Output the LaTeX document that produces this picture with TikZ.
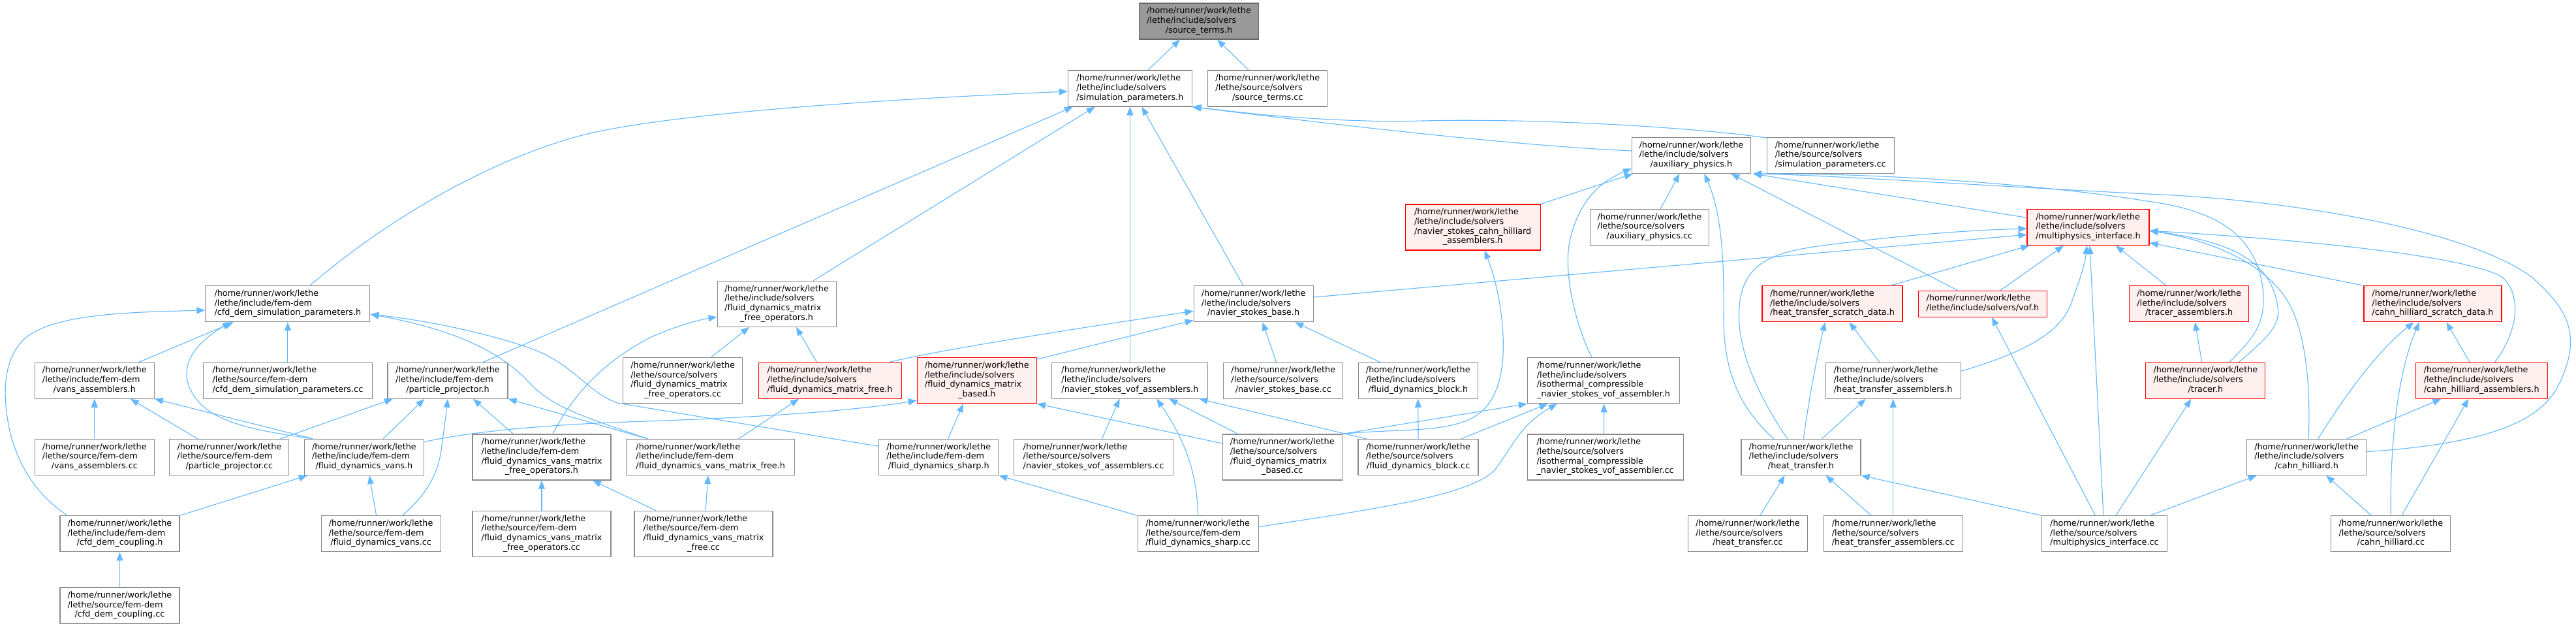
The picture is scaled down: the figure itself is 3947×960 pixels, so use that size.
\documentclass[tikz,border=0pt]{standalone}
\usepackage{fontspec}
\setmainfont{DejaVu Sans}
\usetikzlibrary{arrows.meta}
\definecolor{edgeblue}{HTML}{63B8FF}
\definecolor{nborder}{HTML}{8A8A8A}
\definecolor{rootborder}{HTML}{666666}
\definecolor{rootfill}{HTML}{999999}
\definecolor{redfill}{HTML}{FFF0F0}
\newcommand\hm{/home/runner/work/lethe}
\newcommand\lbl[2]{\begin{tabular}{@{}l@{}}#1\\\multicolumn{1}{@{}c@{}}{#2}\end{tabular}}
\newcommand\nd[7]{\node[#6,minimum width=#4pt,minimum height=#5pt] (#1) at (#2,-#3) {#7};}
\tikzset{
  nbox/.style={draw=nborder,fill=white,line width=1.1pt,inner sep=0pt,font=\fontsize{12.8}{14.7}\selectfont},
  rbox/.style={nbox,draw=red,fill=redfill},
  rootbox/.style={nbox,draw=rootborder,fill=rootfill},
  dep/.style={draw=edgeblue,line width=1.1pt,-{Triangle[length=13pt,width=10pt]}}
}
\begin{document}
\begin{tikzpicture}[x=1pt,y=1pt]
\fill[white] (0,0) rectangle (3947,-960);
\useasboundingbox (0,0) rectangle (3947,-960);
% rank 0-3
\nd{st_h}{1837}{32.5}{183}{55}{rootbox}{\lbl{\hm\\/lethe/include/solvers}{/source\_terms.h}}
\nd{sp_h}{1731.4}{135.5}{190}{55}{nbox}{\lbl{\hm\\/lethe/include/solvers}{/simulation\_parameters.h}}
\nd{st_cc}{1942.3}{135.5}{183}{55}{nbox}{\lbl{\hm\\/lethe/source/solvers}{/source\_terms.cc}}
\nd{aux_h}{2591.4}{238}{182}{55}{nbox}{\lbl{\hm\\/lethe/include/solvers}{/auxiliary\_physics.h}}
\nd{sp_cc}{2804.8}{238}{195}{55}{nbox}{\lbl{\hm\\/lethe/source/solvers}{/simulation\_parameters.cc}}
\nd{nsch_h}{2256.7}{348}{207}{70}{rbox}{\lbl{\hm\\/lethe/include/solvers\\/navier\_stokes\_cahn\_hilliard}{\_assemblers.h}}
\nd{aux_cc}{2527.4}{348}{182}{55}{nbox}{\lbl{\hm\\/lethe/source/solvers}{/auxiliary\_physics.cc}}
\nd{mi_h}{3199.5}{348}{187}{55}{rbox}{\lbl{\hm\\/lethe/include/solvers}{/multiphysics\_interface.h}}
% rank 4
\nd{cdsp_h}{440.9}{465.3}{252}{55}{nbox}{\lbl{\hm\\/lethe/include/fem-dem}{/cfd\_dem\_simulation\_parameters.h}}
\nd{fdmfo_h}{1190.1}{465.3}{182}{70}{nbox}{\lbl{\hm\\/lethe/include/solvers\\/fluid\_dynamics\_matrix}{\_free\_operators.h}}
\nd{nsb_h}{1920.6}{465.3}{183}{55}{nbox}{\lbl{\hm\\/lethe/include/solvers}{/navier\_stokes\_base.h}}
\nd{htsd_h}{2807.5}{465.3}{215}{55}{rbox}{\lbl{\hm\\/lethe/include/solvers}{/heat\_transfer\_scratch\_data.h}}
\nd{vof_h}{3037.9}{465.3}{197}{40}{rbox}{\lbl{\hm}{/lethe/include/solvers/vof.h}}
\nd{tra_h}{3354.2}{465.3}{183}{55}{rbox}{\lbl{\hm\\/lethe/include/solvers}{/tracer\_assemblers.h}}
\nd{chsd_h}{3727.4}{465.3}{211}{55}{rbox}{\lbl{\hm\\/lethe/include/solvers}{/cahn\_hilliard\_scratch\_data.h}}
% rank 5
\nd{va_h}{144.8}{582.7}{183}{55}{nbox}{\lbl{\hm\\/lethe/include/fem-dem}{/vans\_assemblers.h}}
\nd{cdsp_cc}{440.9}{582.7}{259}{55}{nbox}{\lbl{\hm\\/lethe/source/fem-dem}{/cfd\_dem\_simulation\_parameters.cc}}
\nd{pp_h}{686}{582.7}{184}{55}{nbox}{\lbl{\hm\\/lethe/include/fem-dem}{/particle\_projector.h}}
\nd{fdmfo_cc}{1046.2}{582.7}{183}{70}{nbox}{\lbl{\hm\\/lethe/source/solvers\\/fluid\_dynamics\_matrix}{\_free\_operators.cc}}
\nd{fdmf_h}{1271.6}{582.7}{219}{55}{rbox}{\lbl{\hm\\/lethe/include/solvers}{/fluid\_dynamics\_matrix\_free.h}}
\nd{fdmb_h}{1496.8}{582.7}{183}{70}{rbox}{\lbl{\hm\\/lethe/include/solvers\\/fluid\_dynamics\_matrix}{\_based.h}}
\nd{nsva_h}{1731.4}{582.7}{239}{55}{nbox}{\lbl{\hm\\/lethe/include/solvers}{/navier\_stokes\_vof\_assemblers.h}}
\nd{nsb_cc}{1966.3}{582.7}{183}{55}{nbox}{\lbl{\hm\\/lethe/source/solvers}{/navier\_stokes\_base.cc}}
\nd{fdb_h}{2172.8}{582.7}{183}{55}{nbox}{\lbl{\hm\\/lethe/include/solvers}{/fluid\_dynamics\_block.h}}
\nd{icns_h}{2456.9}{582.7}{233}{70}{nbox}{\lbl{\hm\\/lethe/include/solvers\\/isothermal\_compressible}{\_navier\_stokes\_vof\_assembler.h}}
\nd{hta_h}{2900.7}{582.7}{207}{55}{nbox}{\lbl{\hm\\/lethe/include/solvers}{/heat\_transfer\_assemblers.h}}
\nd{tr_h}{3379.4}{582.7}{183}{55}{rbox}{\lbl{\hm\\/lethe/include/solvers}{/tracer.h}}
\nd{cha_h}{3802.2}{582.7}{202}{55}{rbox}{\lbl{\hm\\/lethe/include/solvers}{/cahn\_hilliard\_assemblers.h}}
% rank 6
\nd{va_cc}{144.8}{700}{183}{55}{nbox}{\lbl{\hm\\/lethe/source/fem-dem}{/vans\_assemblers.cc}}
\nd{pp_cc}{351.4}{700}{183}{55}{nbox}{\lbl{\hm\\/lethe/source/fem-dem}{/particle\_projector.cc}}
\nd{fdv_h}{557.9}{700}{183}{55}{nbox}{\lbl{\hm\\/lethe/include/fem-dem}{/fluid\_dynamics\_vans.h}}
\nd{fdvmfo_h}{830}{700}{212}{70}{nbox}{\lbl{\hm\\/lethe/include/fem-dem\\/fluid\_dynamics\_vans\_matrix}{\_free\_operators.h}}
\nd{fdvmf_h}{1088.7}{700}{258}{55}{nbox}{\lbl{\hm\\/lethe/include/fem-dem}{/fluid\_dynamics\_vans\_matrix\_free.h}}
\nd{fds_h}{1438.3}{700}{183}{55}{nbox}{\lbl{\hm\\/lethe/include/fem-dem}{/fluid\_dynamics\_sharp.h}}
\nd{nsva_cc}{1675.6}{700}{244}{55}{nbox}{\lbl{\hm\\/lethe/source/solvers}{/navier\_stokes\_vof\_assemblers.cc}}
\nd{fdmb_cc}{1964.8}{700}{183}{70}{nbox}{\lbl{\hm\\/lethe/source/solvers\\/fluid\_dynamics\_matrix}{\_based.cc}}
\nd{fdb_cc}{2173}{700}{184}{55}{nbox}{\lbl{\hm\\/lethe/source/solvers}{/fluid\_dynamics\_block.cc}}
\nd{icns_cc}{2459.6}{700}{239}{70}{nbox}{\lbl{\hm\\/lethe/source/solvers\\/isothermal\_compressible}{\_navier\_stokes\_vof\_assembler.cc}}
\nd{ht_h}{2759.5}{700}{183}{55}{nbox}{\lbl{\hm\\/lethe/include/solvers}{/heat\_transfer.h}}
\nd{ch_h}{3534.2}{700}{183}{55}{nbox}{\lbl{\hm\\/lethe/include/solvers}{/cahn\_hilliard.h}}
% rank 7
\nd{cdc_h}{183.5}{817.3}{183}{55}{nbox}{\lbl{\hm\\/lethe/include/fem-dem}{/cfd\_dem\_coupling.h}}
\nd{fdv_cc}{583.6}{817.3}{183}{55}{nbox}{\lbl{\hm\\/lethe/source/fem-dem}{/fluid\_dynamics\_vans.cc}}
\nd{fdvmfo_cc}{830}{817.3}{212}{70}{nbox}{\lbl{\hm\\/lethe/source/fem-dem\\/fluid\_dynamics\_vans\_matrix}{\_free\_operators.cc}}
\nd{fdvmf_cc}{1078}{817.3}{212}{70}{nbox}{\lbl{\hm\\/lethe/source/fem-dem\\/fluid\_dynamics\_vans\_matrix}{\_free.cc}}
\nd{fds_cc}{1835.6}{817.3}{185}{55}{nbox}{\lbl{\hm\\/lethe/source/fem-dem}{/fluid\_dynamics\_sharp.cc}}
\nd{ht_cc}{2677.9}{817.3}{183}{55}{nbox}{\lbl{\hm\\/lethe/source/solvers}{/heat\_transfer.cc}}
\nd{hta_cc}{2900.7}{817.3}{213}{55}{nbox}{\lbl{\hm\\/lethe/source/solvers}{/heat\_transfer\_assemblers.cc}}
\nd{mi_cc}{3224.4}{817.3}{192}{55}{nbox}{\lbl{\hm\\/lethe/source/solvers}{/multiphysics\_interface.cc}}
\nd{ch_cc}{3663.3}{817.3}{183}{55}{nbox}{\lbl{\hm\\/lethe/source/solvers}{/cahn\_hilliard.cc}}
% rank 8
\nd{cdc_cc}{183.5}{927.3}{183}{55}{nbox}{\lbl{\hm\\/lethe/source/fem-dem}{/cfd\_dem\_coupling.cc}}
% ---------------- edges
\draw[dep] ([xshift=27.5pt]sp_h.north) -- ([xshift=-29pt]st_h.south);
\draw[dep] ([xshift=-29pt]st_cc.north) -- ([xshift=28pt]st_h.south);
\draw[dep] ([xshift=33.8pt]cdsp_h.north) .. controls (600,-330) and (760,-240) .. (900,-205) .. controls (1050,-170) and (1400,-150) .. ([yshift=-4.5pt]sp_h.west);
\draw[dep] ([xshift=54pt]pp_h.north) -- ([xshift=-87.4pt]sp_h.south);
\draw[dep] ([xshift=56pt]fdmfo_h.north) -- ([xshift=-53.7pt]sp_h.south);
\draw[dep] (nsva_h.north) -- (sp_h.south);
\draw[dep] ([xshift=-15.6pt]nsb_h.north) -- ([xshift=18pt]sp_h.south);
\draw[dep] ([yshift=7pt]aux_h.west) .. controls (2300,-222) and (2000,-185) .. ([xshift=-1pt]sp_h.south east);
\draw[dep] ([yshift=-1pt]sp_cc.north west) .. controls (2550,-190) and (2300,-180) .. (2148,-186) .. controls (2000,-185) and (1900,-172) .. ([xshift=1pt]sp_h.south east);
\draw[dep] (nsch_h.north east) -- ([xshift=2pt]aux_h.south west);
\draw[dep] ([xshift=-18pt]icns_h.north) .. controls (2415,-500) and (2395,-420) .. (2405,-370) .. controls (2420,-300) and (2460,-275) .. ([yshift=-20pt]aux_h.west);
\draw[dep] ([xshift=16.6pt]aux_cc.north) -- ([xshift=-18pt]aux_h.south);
\draw[dep] ([xshift=-41.6pt]ht_h.north) .. controls (2660,-620) and (2640,-560) .. (2641,-480) .. controls (2642,-380) and (2635,-320) .. ([xshift=20pt]aux_h.south);
\draw[dep] ([xshift=-38pt]vof_h.north) -- ([xshift=61pt]aux_h.south);
\draw[dep] ([yshift=14.7pt]mi_h.west) -- ([xshift=3pt]aux_h.south east);
\draw[dep] ([xshift=36.3pt]tr_h.north) .. controls (3450,-520) and (3470,-500) .. (3468,-450) .. controls (3460,-350) and (3380,-320) .. (3290,-308) .. controls (3150,-285) and (2900,-265) .. ([xshift=3pt]aux_h.south east);
\draw[dep] ([yshift=8.3pt]ch_h.east) .. controls (3800,-680) and (3890,-650) .. (3920,-590) .. controls (3960,-510) and (3930,-470) .. (3880,-425) .. controls (3780,-350) and (3500,-305) .. (3290,-297) .. controls (3050,-285) and (2800,-268) .. ([xshift=3pt]aux_h.south east);
\draw[dep] ([yshift=10.3pt]nsb_h.east) -- ([yshift=-11.3pt]mi_h.west);
\draw[dep] ([xshift=-20.6pt]ht_h.north) .. controls (2690,-600) and (2660,-530) .. (2665,-470) .. controls (2670,-400) and (2720,-385) .. (2800,-375) .. controls (2900,-362) and (3000,-353) .. ([yshift=-2pt]mi_h.west);
\draw[dep] ([xshift=89pt]htsd_h.north) -- ([xshift=4pt]mi_h.south west);
\draw[dep] ([xshift=27pt]vof_h.north) -- ([xshift=-37.6pt]mi_h.south);
\draw[dep] ([yshift=14.4pt]hta_h.east) .. controls (3100,-540) and (3160,-510) .. (3175,-460) .. controls (3190,-420) and (3195,-400) .. ([xshift=-1.8pt]mi_h.south);
\draw[dep] ([xshift=-1.5pt]mi_cc.north) -- ([xshift=2.4pt]mi_h.south);
\draw[dep] ([xshift=-35pt]tra_h.north) -- ([xshift=42.3pt]mi_h.south);
\draw[dep] ([xshift=51pt]tr_h.north) .. controls (3470,-520) and (3495,-500) .. (3490,-470) .. controls (3480,-400) and (3420,-370) .. ([yshift=-5.3pt]mi_h.east);
\draw[dep] ([xshift=3pt]ch_h.north) .. controls (3540,-600) and (3535,-520) .. (3510,-470) .. controls (3480,-410) and (3400,-370) .. ([yshift=-5.3pt]mi_h.east);
\draw[dep] ([xshift=20pt]cha_h.north) .. controls (3850,-520) and (3870,-460) .. (3835,-425) .. controls (3780,-390) and (3500,-365) .. ([yshift=-5.3pt]mi_h.east);
\draw[dep] (chsd_h.north west) -- ([yshift=-23.7pt]mi_h.east);
\draw[dep] (cdsp_cc.north) -- (cdsp_h.south);
\draw[dep] ([xshift=67.7pt]va_h.north) -- ([xshift=-83pt]cdsp_h.south);
\draw[dep] ([xshift=-78pt]fdv_h.north) .. controls (400,-660) and (330,-650) .. (300,-610) .. controls (270,-570) and (290,-530) .. ([xshift=-87pt]cdsp_h.south);
\draw[dep] ([xshift=-80.4pt]cdc_h.north) .. controls (60,-760) and (30,-720) .. (15,-660) .. controls (0,-590) and (10,-540) .. (42,-515) .. controls (90,-480) and (200,-478) .. ([yshift=-9.7pt]cdsp_h.west);
\draw[dep] ([xshift=-96pt]fdvmf_h.north) .. controls (900,-640) and (850,-625) .. (815,-590) .. controls (770,-540) and (700,-505) .. ([yshift=-16pt]cdsp_h.east);
\draw[dep] ([yshift=16.7pt]fds_h.west) -- (946,-617) .. controls (900,-600) and (880,-560) .. (820,-536) .. controls (750,-510) and (650,-490) .. ([yshift=-16pt]cdsp_h.east);
\draw[dep] (va_cc.north) -- (va_h.south);
\draw[dep] ([xshift=-48.4pt]pp_cc.north) -- ([xshift=55pt]va_h.south);
\draw[dep] ([xshift=-78pt]fdv_h.north) -- (va_h.south east);
\draw[dep] ([xshift=78pt]pp_cc.north) -- ([xshift=-84pt]pp_h.south);
\draw[dep] ([xshift=29pt]fdv_h.north) -- ([xshift=-35.7pt]pp_h.south);
\draw[dep] ([xshift=33pt]fdv_cc.north) .. controls (650,-760) and (670,-730) .. (676,-690) .. controls (680,-660) and (684,-630) .. (pp_h.south);
\draw[dep] ([xshift=-43.7pt]fdvmfo_h.north) -- ([xshift=39pt]pp_h.south);
\draw[dep] ([xshift=-96pt]fdvmf_h.north) -- (pp_h.south east);
\draw[dep] ([xshift=17pt]fdvmfo_h.north) .. controls (880,-600) and (930,-550) .. (1000,-515) .. controls (1040,-498) and (1070,-490) .. ([yshift=-20pt]fdmfo_h.west);
\draw[dep] ([xshift=43pt]fdmfo_cc.north) -- ([xshift=-42pt]fdmfo_h.south);
\draw[dep] ([xshift=-20pt]fdmf_h.north) -- ([xshift=29.7pt]fdmfo_h.south);
\draw[dep] ([xshift=90.5pt]fdmf_h.north) .. controls (1420,-540) and (1600,-510) .. ([yshift=-11pt]nsb_h.west);
\draw[dep] ([yshift=-3pt]fdmb_h.north east) -- ([yshift=3pt]nsb_h.south west);
\draw[dep] ([xshift=-10.8pt]nsb_cc.north) -- ([xshift=14pt]nsb_h.south);
\draw[dep] ([xshift=-58pt]fdb_h.north) -- ([xshift=63.6pt]nsb_h.south);
\draw[dep] ([xshift=42.7pt]fdvmf_h.north) -- ([xshift=-47.6pt]fdmf_h.south);
\draw[dep] ([xshift=14.3pt]fds_h.north) -- ([xshift=-21pt]fdmb_h.south);
\draw[dep] ([yshift=21pt]fdmb_cc.west) -- (fdmb_h.south east);
\draw[dep] ([yshift=23.3pt]fdv_h.east) .. controls (700,-665) and (800,-652) .. (960,-646) .. controls (1150,-640) and (1300,-630) .. ([yshift=5pt]fdmb_h.south west);
\draw[dep] (fdvmfo_cc.north) -- (fdvmfo_h.south);
\draw[dep] ([xshift=-73pt]fdvmf_cc.north) -- ([xshift=78pt]fdvmfo_h.south);
\draw[dep] ([xshift=3pt]fdvmf_cc.north) -- ([xshift=-3.6pt]fdvmf_h.south);
\draw[dep] ([xshift=-7pt]fdv_cc.north) -- ([xshift=8pt]fdv_h.south);
\draw[dep] (cdc_h.north east) -- ([xshift=5pt]fdv_h.south west);
\draw[dep] (cdc_cc.north) -- (cdc_h.south);
\draw[dep] (fds_cc.north west) -- (fds_h.south east);
\draw[dep] ([xshift=12.7pt]nsva_cc.north) -- ([xshift=-15.8pt]nsva_h.south);
\draw[dep] (fds_cc.north) .. controls (1834,-730) and (1820,-680) .. ([xshift=41pt]nsva_h.south);
\draw[dep] ([xshift=-68pt]fdmb_cc.north) -- ([xshift=60pt]nsva_h.south);
\draw[dep] ([xshift=-79.4pt]fdb_cc.north) -- ([xshift=106pt]nsva_h.south);
\draw[dep] (fdmb_cc.north east) -- (icns_h.south west);
\draw[dep] ([xshift=65.8pt]fdb_cc.north) -- ([xshift=-85.5pt]icns_h.south);
\draw[dep] ([yshift=10.6pt]fds_cc.east) .. controls (2100,-780) and (2250,-760) .. (2290,-720) .. controls (2320,-680) and (2330,-650) .. ([xshift=-71pt]icns_h.south);
\draw[dep] ([xshift=-2pt]icns_cc.north) -- ([xshift=0.8pt]icns_h.south);
\draw[dep] (fdb_cc.north) -- (fdb_h.south);
\draw[dep] (fdmb_cc.north east) .. controls (2150,-655) and (2230,-665) .. (2270,-630) .. controls (2310,-595) and (2305,-520) .. (2300,-480) .. controls (2295,-440) and (2285,-410) .. ([xshift=18pt]nsch_h.south);
\draw[dep] ([xshift=-21pt]hta_h.north) -- ([xshift=26pt]htsd_h.south);
\draw[dep] ([xshift=3.8pt]ht_h.north) .. controls (2770,-620) and (2785,-540) .. ([xshift=-11pt]htsd_h.south);
\draw[dep] ([xshift=32pt]ht_h.north) -- ([xshift=-42pt]hta_h.south);
\draw[dep] (hta_cc.north) -- (hta_h.south);
\draw[dep] ([xshift=19pt]ht_cc.north) -- ([xshift=-25pt]ht_h.south);
\draw[dep] ([xshift=-33.4pt]hta_cc.north) -- ([xshift=38pt]ht_h.south);
\draw[dep] (mi_cc.north west) -- (ht_h.south east);
\draw[dep] ([xshift=-14pt]mi_cc.north) -- ([xshift=14pt]vof_h.south);
\draw[dep] ([xshift=17.5pt]mi_cc.north) -- ([xshift=-22pt]tr_h.south);
\draw[dep] ([xshift=70pt]mi_cc.north) -- ([xshift=-76.6pt]ch_h.south);
\draw[dep] ([xshift=-5.6pt]tr_h.north) -- ([xshift=9pt]tra_h.south);
\draw[dep] ([xshift=-30pt]ch_cc.north) -- ([xshift=30pt]ch_h.south);
\draw[dep] (ch_cc.north) .. controls (3662,-700) and (3670,-580) .. ([xshift=-20.6pt]chsd_h.south);
\draw[dep] ([xshift=16.6pt]ch_cc.north) -- ([xshift=-20pt]cha_h.south);
\draw[dep] ([xshift=17.6pt]ch_h.north) .. controls (3590,-610) and (3640,-540) .. ([xshift=-29pt]chsd_h.south);
\draw[dep] ([xshift=61.6pt]ch_h.north) -- ([xshift=-61.8pt]cha_h.south);
\draw[dep] ([xshift=-18pt]cha_h.north) -- ([xshift=21pt]chsd_h.south);
\end{tikzpicture}
\end{document}
